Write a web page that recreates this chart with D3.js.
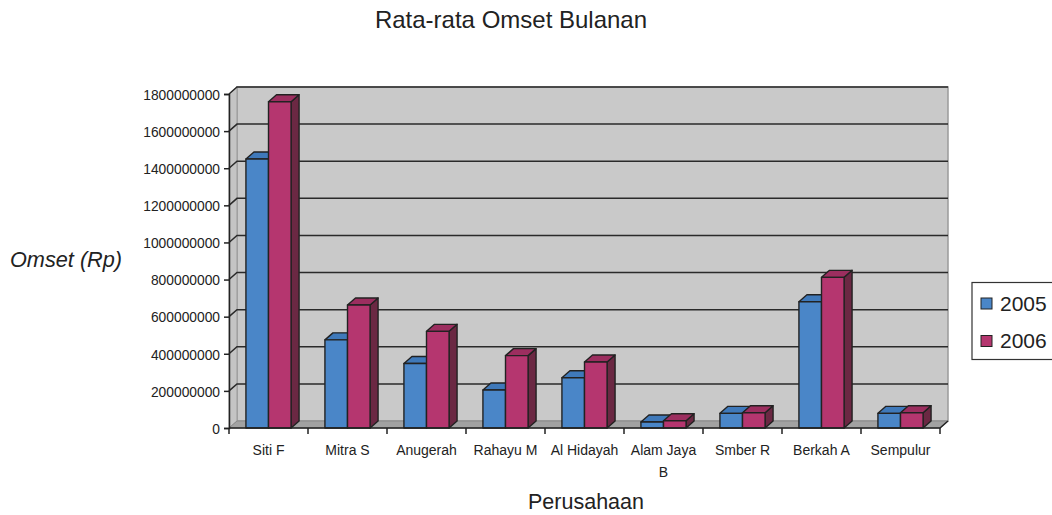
<!DOCTYPE html>
<html><head><meta charset="utf-8">
<script src="https://cdn.jsdelivr.net/npm/d3@7"></script>
<style>body{margin:0;background:#fff}svg{display:block;font-family:"Liberation Sans",Arial,sans-serif}</style>
</head><body><svg id="c" width="1052" height="515"></svg>
<script>
const categories = ["Siti F","Mitra S","Anugerah","Rahayu M","Al Hidayah","Alam Jaya B","Smber R","Berkah A","Sempulur"];
const seriesNames = ["2005","2006"];
const values2005 = [1450e6, 475e6, 348e6, 205e6, 271e6, 32e6, 79e6, 680e6, 79e6];
const values2006 = [1758e6, 663e6, 521e6, 390e6, 356e6, 39e6, 82e6, 812e6, 82e6];
const yTicks = [0,200e6,400e6,600e6,800e6,1000e6,1200e6,1400e6,1600e6,1800e6];

const svg = d3.select("#c");
const X0 = 229, X1 = 940, Y0 = 428, YT = 94, DX = 8, DY = -7;
const x = d3.scaleBand().domain(categories).range([X0, X1]).padding(0);
const xs = d3.scaleBand().domain(seriesNames).range([0, x.bandwidth()]).paddingInner(0).paddingOuter(0.75);
const y = d3.scaleLinear().domain([0, 1800e6]).range([Y0, YT]);

const colors = {
  "2005": {front:"#4a86c8", top:"#3f79ba", side:"#2f5f95"},
  "2006": {front:"#b5366f", top:"#9c2e5f", side:"#6b2843"}
};

// walls
const poly = pts => pts.map(p => p.join(",")).join(" ");
svg.append("polygon").attr("points", poly([[X0+DX,YT+DY],[X1+DX,YT+DY],[X1+DX,Y0+DY],[X0+DX,Y0+DY]]))
  .attr("fill","#c9c9c9").attr("stroke","#9a9a9a").attr("stroke-width",1.5);
svg.append("polygon").attr("points", poly([[X0,YT],[X0+DX,YT+DY],[X0+DX,Y0+DY],[X0,Y0]]))
  .attr("fill","#c4c4c4").attr("stroke","#9a9a9a").attr("stroke-width",1);
svg.append("polygon").attr("points", poly([[X0,Y0],[X0+DX,Y0+DY],[X1+DX,Y0+DY],[X1,Y0]]))
  .attr("fill","#a2a2a2").attr("stroke","#8a8a8a").attr("stroke-width",1);

// gridlines
const grid = svg.append("g");
yTicks.filter(v => v > 0).forEach(v => {
  const yy = y(v);
  grid.append("path").attr("d", `M${X0},${yy}L${X0+DX},${yy+DY}L${X1+DX},${yy+DY}`)
    .attr("fill","none").attr("stroke","#2a2a2a").attr("stroke-width",1.5);
});

// bars
const bars = svg.append("g");
categories.forEach((c, i) => {
  [["2005", values2005[i]], ["2006", values2006[i]]].forEach(([s, v]) => {
    const bx = x(c) + xs(s), bw = xs.bandwidth(), ty = y(v);
    const col = colors[s];
    const g = bars.append("g").attr("stroke","#222").attr("stroke-width",1.4).attr("stroke-linejoin","round");
    g.append("polygon").attr("points", poly([[bx+bw,ty],[bx+bw+DX,ty+DY],[bx+bw+DX,Y0+DY],[bx+bw,Y0]])).attr("fill", col.side);
    g.append("polygon").attr("points", poly([[bx,ty],[bx+DX,ty+DY],[bx+bw+DX,ty+DY],[bx+bw,ty]])).attr("fill", col.top);
    g.append("rect").attr("x", bx).attr("y", ty).attr("width", bw).attr("height", Y0 - ty).attr("fill", col.front);
  });
});

// axes
const yAxis = svg.append("g").attr("transform", `translate(${X0},0)`)
  .call(d3.axisLeft(y).tickValues(yTicks).tickFormat(d3.format("d")).tickSize(5).tickPadding(4));
yAxis.select(".domain").attr("stroke","#222").attr("stroke-width",1.5);
yAxis.selectAll(".tick line").attr("stroke","#222").attr("stroke-width",1.5);
yAxis.selectAll("text").attr("font-size","13.8px").attr("fill","#222").attr("font-family","Liberation Sans, Arial, sans-serif").attr("dy","0.38em");

const xAxis = svg.append("g").attr("transform", `translate(0,${Y0})`);
xAxis.append("path").attr("d", `M${X0},0L${X1},0L${X1+DX},${DY}`).attr("fill","none").attr("stroke","#222").attr("stroke-width",1.5);
const boundaries = categories.map(c => x(c)).concat([X1]);
xAxis.selectAll("line.tk").data(boundaries).join("line").attr("class","tk")
  .attr("x1", d => d).attr("x2", d => d).attr("y1", 0).attr("y2", 6).attr("stroke","#222").attr("stroke-width",1.5);
const labelLines = {"Alam Jaya B": ["Alam Jaya","B"]};
categories.forEach(c => {
  const lines = labelLines[c] || [c];
  const t = xAxis.append("text").attr("x", x(c) + x.bandwidth()/2).attr("y", 27)
    .attr("text-anchor","middle").attr("font-size","14px").attr("fill","#222");
  lines.forEach((l, j) => t.append("tspan").attr("x", x(c) + x.bandwidth()/2).attr("dy", j ? 22 : 0).text(l));
});

// titles
svg.append("text").attr("x", 511).attr("y", 28).attr("text-anchor","middle").attr("font-size","24px").attr("fill","#222").text("Rata-rata Omset Bulanan");
svg.append("text").attr("x", 10).attr("y", 267).attr("font-size","21.7px").attr("font-style","italic").attr("fill","#222").text("Omset (Rp)");
svg.append("text").attr("x", 586).attr("y", 509).attr("text-anchor","middle").attr("font-size","21.5px").attr("fill","#222").text("Perusahaan");

// legend
const lg = svg.append("g");
lg.append("rect").attr("x", 972).attr("y", 282.5).attr("width", 100).attr("height", 77).attr("fill","#fff").attr("stroke","#333").attr("stroke-width",1.2);
seriesNames.forEach((s, i) => {
  const yy = 298 + i * 37.5;
  lg.append("rect").attr("x", 981).attr("y", yy).attr("width", 11).attr("height", 11).attr("fill", colors[s].front).attr("stroke","#222").attr("stroke-width",1);
  lg.append("text").attr("x", 1000).attr("y", yy + 12.5).attr("font-size","21px").attr("fill","#222").text(s);
});
</script></body></html>
